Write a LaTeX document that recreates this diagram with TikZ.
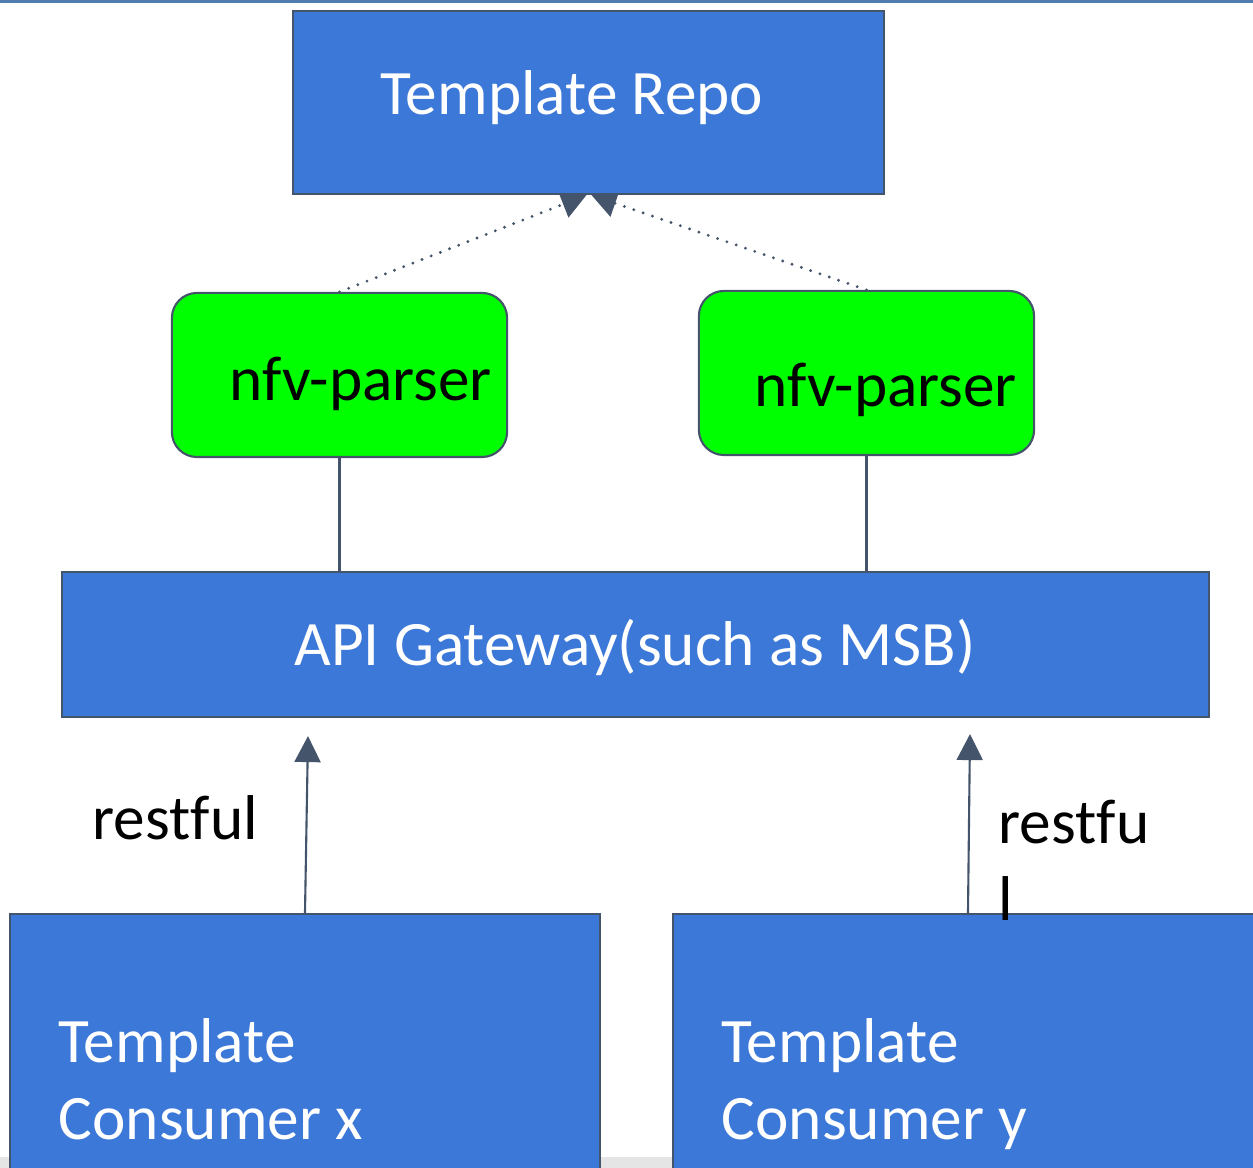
\documentclass[tikz,border=0pt]{standalone}
\usepackage{fontspec}
\setmainfont[Ligatures=NoCommon]{Carlito}
\usetikzlibrary{arrows.meta,backgrounds,calc}
\definecolor{boxblue}{RGB}{60,120,216}
\definecolor{slate}{RGB}{68,84,106}
\definecolor{topline}{RGB}{79,125,175}
\tikzset{
	box/.style={draw=slate, line width=0.6pt, fill=boxblue},
	parser/.style={draw=slate, line width=0.6pt, fill=green, rounded corners=0.25cm, minimum width=3.35cm, minimum height=1.64cm},
	lbl/.style={font=\fontsize{18}{22}\selectfont, inner sep=0pt},
	link/.style={color=slate, line width=0.6pt},
	flow/.style={link, -{Triangle[width=0.26cm,length=0.26cm]}},
	dots/.style={color=slate, line width=0.9pt, line cap=round, dash pattern=on 0pt off 2.8pt, -{Triangle[width=0.28cm,length=0.25cm]}}
}

\begin{document}
\begin{tikzpicture}[x=0.01cm,y=-0.01cm]
	\clip (0,0) rectangle (1253,1168);
	% boxes
	\node[box, minimum width=5.91cm, minimum height=1.83cm] (repo) at (588.5,102.5) {};
	\node[parser] (p1) at (339.5,375) {};
	\node[parser] (p2) at (866.5,373) {};
	\node[box, minimum width=11.47cm, minimum height=1.45cm] (gw) at (635.5,644.5) {};
	\node[box, minimum width=5.9cm, minimum height=2.86cm] (conx) at (305,1057) {};
	\node[box, minimum width=5.9cm, minimum height=2.86cm] (cony) at (968,1057) {};
	% texts
	\node[lbl, text=white, anchor=base] (repotxt) at (572,115) {Template Repo};
	\node[lbl, anchor=base] (p1txt) at (361,401) {nfv-parser};
	\node[lbl, anchor=base] (p2txt) at (886,407) {nfv-parser};
	\node[lbl, text=white, anchor=base] (gwtxt) at (635,666) {API Gateway(such as MSB)};
	\node[lbl, text=white, anchor=base west, align=left] (conxtxt) at (58,1140) {Template\\Consumer x};
	\node[lbl, text=white, anchor=base west, align=left] (conytxt) at (721,1140) {Template\\Consumer y};
	\node[lbl, anchor=base west] (restx) at (92,840) {restful};
	\node[lbl, anchor=base west, align=left] (resty) at (998,921) {restfu\\l};
	% connectors
	\begin{scope}[on background layer]
		\fill[white] (0,0) rectangle (1253,1168);
		\fill[gray!20] (0,1157) rectangle (1253,1168);
		\fill[topline] (0,0) rectangle (1253,3);
		\draw[dots] (p1.north) -- ($(repo.south)+(-2,0)$);
		\draw[dots] (p2.north) -- ($(repo.south)+(3,0)$);
		\draw[link] (p1.south) -- (p1.south |- gw.north);
		\draw[link] (p2.south) -- (p2.south |- gw.north);
		\draw[flow] (conx.north) -- ($(conx.north |- gw.south)+(3,18)$);
		\draw[flow] (cony.north) -- ($(cony.north |- gw.south)+(2,16)$);
	\end{scope}
\end{tikzpicture}
\end{document}
